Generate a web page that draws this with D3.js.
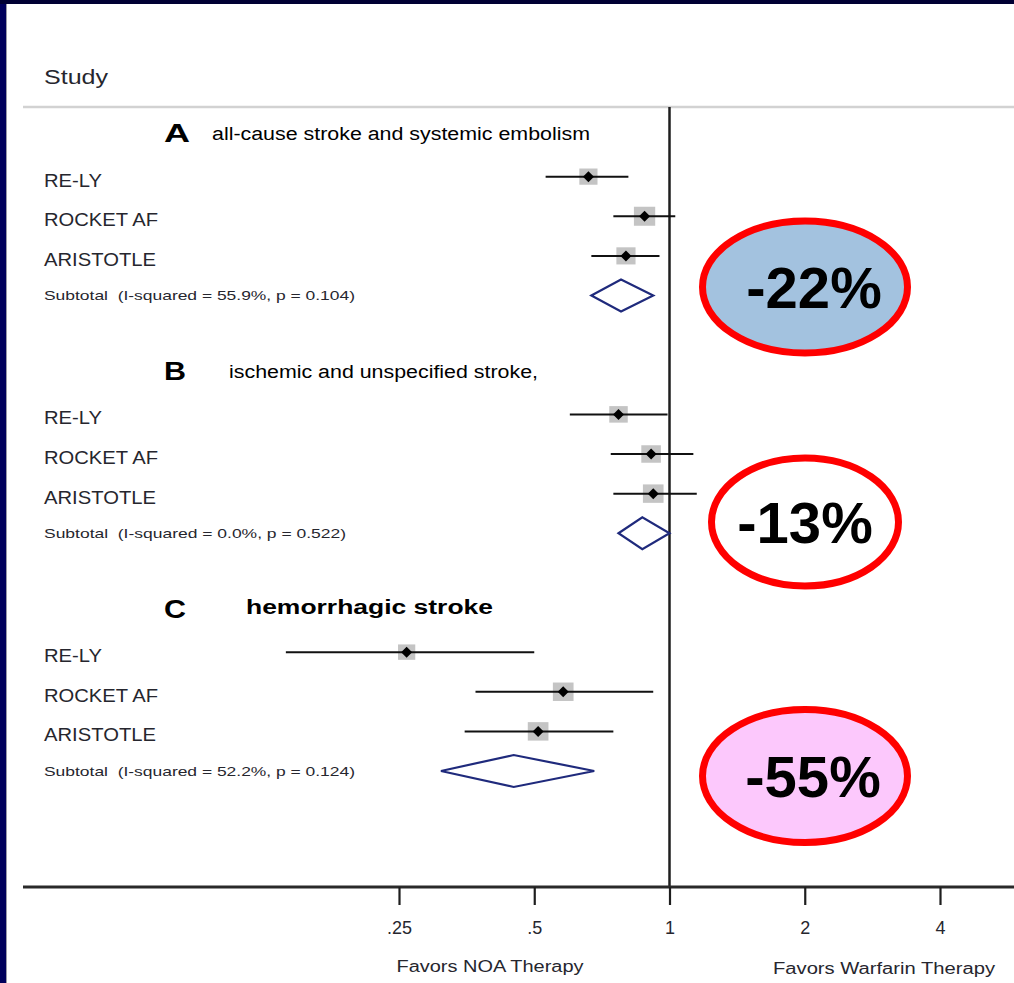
<!DOCTYPE html>
<html>
<head>
<meta charset="utf-8">
<script src="https://cdn.jsdelivr.net/npm/d3@7"></script>
<style>
  html, body { margin: 0; padding: 0; background: #00005c; overflow: hidden; }
  svg { display: block; }
  text { white-space: pre; }
</style>
</head>
<body>
<script>
// ---- data -------------------------------------------------------------
const studies = ["RE-LY", "ROCKET AF", "ARISTOTLE"];
const panelLetters = ["A", "B", "C"];
const outcomes = [
  "all-cause stroke and systemic embolism",
  "ischemic and unspecified stroke,",
  "hemorrhagic stroke"
];
// hazard ratios (NOA vs warfarin) per panel, in study order
const hr   = [[0.66, 0.88, 0.80], [0.77, 0.91, 0.92], [0.26, 0.58, 0.51]];
const ciLo = [[0.53, 0.75, 0.67], [0.60, 0.74, 0.75], [0.14, 0.37, 0.35]];
const ciHi = [[0.81, 1.03, 0.95], [0.99, 1.13, 1.15], [0.50, 0.92, 0.75]];
// study weights (%) within each subgroup
const weights = [[28.7, 39.4, 31.9], [29.7, 33.3, 37.0], [25.8, 37.1, 37.1]];
// pooled subtotals
const subHR = [0.78, 0.87, 0.45];
const subLo = [0.67, 0.77, 0.31];
const subHi = [0.92, 1.00, 0.68];
const iSquared = ["55.9%", "0.0%", "52.2%"];
const pValues = ["0.104", "0.522", "0.124"];
// x axis
const tickValues = [0.25, 0.5, 1, 2, 4];
const tickLabels = [".25", ".5", "1", "2", "4"];

// ---- layout -----------------------------------------------------------
const W = 1014, H = 983;
const FONT = "'Liberation Sans', Arial, Helvetica, sans-serif";
const INK = "#26262e";

const svg = d3.select("body").append("svg").attr("width", W).attr("height", H);

// slide frame and white panel
svg.append("rect").attr("width", W).attr("height", H).attr("fill", "#00005c");
svg.append("rect").attr("width", W).attr("height", 4).attr("fill", "#000033");
svg.append("rect").attr("x", 6).attr("y", 4).attr("width", W - 6).attr("height", H - 4).attr("fill", "#9a9aa8");
svg.append("rect").attr("x", 7).attr("y", 4).attr("width", W - 7).attr("height", H - 4).attr("fill", "#ffffff");

const x = d3.scaleLog().base(2).domain([0.25, 4]).range([399, 940]);
const y = d3.scaleLinear().domain([0, 16]).range([137, 771]);
const boxSide = d3.scaleSqrt().domain([0, 100]).range([0, 30.3]);
const rowOf = (p, r) => p * 6 + r;   // row 0 = header, 1..3 studies, 4 subtotal

function label(g, tx, ty, str, opt) {
  const t = g.append("text")
    .attr("x", tx).attr("y", ty)
    .attr("dominant-baseline", "central")
    .attr("font-family", FONT)
    .attr("font-size", opt.size)
    .attr("font-weight", opt.weight || "normal")
    .attr("fill", opt.fill || INK)
    .attr("text-anchor", opt.anchor || "start")
    .text(str);
  if (opt.width) t.attr("textLength", opt.width).attr("lengthAdjust", "spacingAndGlyphs");
  return t;
}

// header rule and column title
svg.append("line").attr("x1", 23).attr("x2", W).attr("y1", 107).attr("y2", 107)
  .attr("stroke", "#d2d2d2").attr("stroke-width", 2.5);
label(svg, 44, 77, "Study", { size: 20, width: 64 });

// reference line at HR = 1
svg.append("line").attr("x1", x(1)).attr("x2", x(1)).attr("y1", 107).attr("y2", 887)
  .attr("stroke", "#1e1e1e").attr("stroke-width", 2.5);

// axis
svg.append("line").attr("x1", 23).attr("x2", W).attr("y1", 887).attr("y2", 887)
  .attr("stroke", "#2a2a2a").attr("stroke-width", 3);
const gAxis = svg.append("g").attr("transform", "translate(0,887)")
  .call(d3.axisBottom(x).tickValues(tickValues)
    .tickFormat((d, i) => tickLabels[i]).tickSize(18).tickPadding(16));
gAxis.select(".domain").remove();
gAxis.attr("font-size", 18).attr("font-family", FONT);
gAxis.selectAll(".tick line").attr("stroke", "#1e1e1e").attr("stroke-width", 2.2);
gAxis.selectAll(".tick text").attr("font-family", FONT).attr("font-size", 18).attr("fill", INK);

label(svg, 490, 966, "Favors NOA Therapy", { size: 16, anchor: "middle", width: 187 });
label(svg, 884, 968, "Favors Warfarin Therapy", { size: 16, anchor: "middle", width: 222 });

// panel headers and study rows
const studyWidths = { "RE-LY": 58, "ROCKET AF": 114, "ARISTOTLE": 112 };
const letterWidths = [26, 22, 22];
const outcomeX = [212, 229, 246];
const outcomeW = [378, 309, 247];
const subW = [311, 302, 311];

panelLetters.forEach((letter, p) => {
  const g = svg.append("g");
  const hy = y(rowOf(p, 0)) - 4;
  label(g, 164, hy, letter, { size: 26, weight: "bold", fill: "#000", width: letterWidths[p] });
  label(g, outcomeX[p], hy + (p === 2 ? -2 : 1), outcomes[p], {
    size: p === 2 ? 20 : 18, weight: p === 2 ? "bold" : "normal", fill: "#000", width: outcomeW[p]
  });

  studies.forEach((s, i) => {
    const ry = y(rowOf(p, i + 1));
    label(g, 44, ry + 4, s, { size: 18, width: studyWidths[s] });
    const side = boxSide(weights[p][i]);
    g.append("rect")
      .attr("x", x(hr[p][i]) - side * 0.56).attr("y", ry - side / 2)
      .attr("width", side * 1.12).attr("height", side)
      .attr("fill", "#c4c4c4");
    g.append("line")
      .attr("x1", x(ciLo[p][i])).attr("x2", x(ciHi[p][i]))
      .attr("y1", ry).attr("y2", ry)
      .attr("stroke", "#111").attr("stroke-width", 2);
    const cx = x(hr[p][i]);
    g.append("path")
      .attr("d", `M${cx - 5.5},${ry}L${cx},${ry - 5.5}L${cx + 5.5},${ry}L${cx},${ry + 5.5}Z`)
      .attr("fill", "#000");
  });

  // pooled estimate
  const sy = y(rowOf(p, 4));
  label(g, 44, sy, `Subtotal  (I-squared = ${iSquared[p]}, p = ${pValues[p]})`, { size: 13, width: subW[p] });
  g.append("path")
    .attr("d", `M${x(subLo[p])},${sy}L${x(subHR[p])},${sy - 16}L${x(subHi[p])},${sy}L${x(subHR[p])},${sy + 16}Z`)
    .attr("fill", "none").attr("stroke", "#1f2a7c").attr("stroke-width", 2.2);
});

// relative risk reduction callouts
const calloutFill = ["#a3c2df", "#ffffff", "#fcc8fc"];
const callouts = [
  { cx: 805, cy: 287, rx: 102.5, ry: 66, tx: 814 },
  { cx: 805, cy: 522, rx: 93.5, ry: 64, tx: 805 },
  { cx: 805, cy: 776, rx: 102.5, ry: 66.5, tx: 813 }
];
subHR.forEach((v, p) => {
  const c = callouts[p];
  svg.append("ellipse").attr("cx", c.cx).attr("cy", c.cy).attr("rx", c.rx).attr("ry", c.ry)
    .attr("fill", calloutFill[p]).attr("stroke", "#ff0000").attr("stroke-width", 7);
  const pct = Math.round((v - 1) * 100);
  svg.append("text").attr("x", c.tx).attr("y", c.cy + 21)
    .attr("text-anchor", "middle").attr("font-family", FONT)
    .attr("font-size", 58).attr("font-weight", "bold").attr("fill", "#000")
    .text(`${pct}%`);
});
</script>
</body>
</html>
